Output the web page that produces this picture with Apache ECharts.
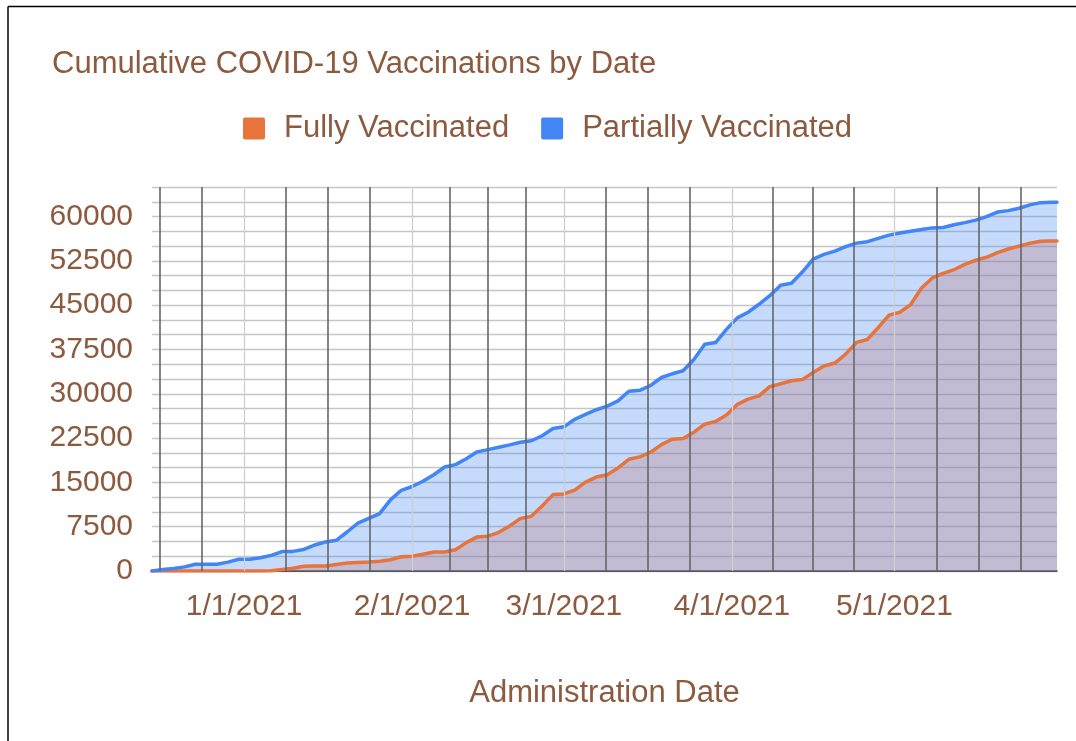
<!DOCTYPE html>
<html>
<head>
<meta charset="utf-8">
<title>Cumulative COVID-19 Vaccinations by Date</title>
<script src="https://cdn.jsdelivr.net/npm/echarts@6/dist/echarts.min.js"></script>
<style>
    html, body { margin: 0; padding: 0; background: #fff; }
    #chart { width: 1076px; height: 741px; }
</style>
</head>
<body>
<div id="chart"></div>
<script>
// administration dates (every 2 days) and cumulative counts
var dates = [
    '2020-12-15', '2020-12-17', '2020-12-19', '2020-12-21', '2020-12-23', '2020-12-25', '2020-12-27', '2020-12-29', '2020-12-31', '2021-01-02',
    '2021-01-04', '2021-01-06', '2021-01-08', '2021-01-10', '2021-01-12', '2021-01-14', '2021-01-16', '2021-01-18', '2021-01-20', '2021-01-22',
    '2021-01-24', '2021-01-26', '2021-01-28', '2021-01-30', '2021-02-01', '2021-02-03', '2021-02-05', '2021-02-07', '2021-02-09', '2021-02-11',
    '2021-02-13', '2021-02-15', '2021-02-17', '2021-02-19', '2021-02-21', '2021-02-23', '2021-02-25', '2021-02-27', '2021-03-01', '2021-03-03',
    '2021-03-05', '2021-03-07', '2021-03-09', '2021-03-11', '2021-03-13', '2021-03-15', '2021-03-17', '2021-03-19', '2021-03-21', '2021-03-23',
    '2021-03-25', '2021-03-27', '2021-03-29', '2021-03-31', '2021-04-02', '2021-04-04', '2021-04-06', '2021-04-08', '2021-04-10', '2021-04-12',
    '2021-04-14', '2021-04-16', '2021-04-18', '2021-04-20', '2021-04-22', '2021-04-24', '2021-04-26', '2021-04-28', '2021-04-30', '2021-05-02',
    '2021-05-04', '2021-05-06', '2021-05-08', '2021-05-10', '2021-05-12', '2021-05-14', '2021-05-16', '2021-05-18', '2021-05-20', '2021-05-22',
    '2021-05-24', '2021-05-26', '2021-05-28', '2021-05-30', '2021-05-31'
];

var fullyVaccinated = [
    0, 0, 0, 0, 0, 0, 0, 0, 0, 0,
    0, 60, 250, 480, 800, 850, 850, 1100, 1360, 1450,
    1520, 1650, 1900, 2420, 2500, 2850, 3220, 3220, 3600, 4800,
    5770, 5900, 6550, 7620, 8900, 9250, 11000, 12930, 13050, 13700,
    15050, 15900, 16300, 17450, 18910, 19320, 20100, 21400, 22300, 22430,
    23500, 24850, 25320, 26400, 28200, 29100, 29650, 31200, 31700, 32200,
    32400, 33600, 34710, 35200, 36700, 38700, 39180, 41200, 43320, 43800,
    45100, 47900, 49600, 50380, 51000, 51900, 52600, 53100, 53900, 54500,
    55000, 55480, 55830, 55870, 55870
];

var partiallyVaccinated = [
    0, 250, 420, 700, 1130, 1130, 1150, 1500, 1980, 1990,
    2250, 2650, 3280, 3320, 3650, 4400, 4900, 5200, 6600, 8100,
    8900, 9720, 12050, 13660, 14300, 15200, 16300, 17600, 18000, 19000,
    20170, 20550, 20950, 21350, 21800, 22050, 22900, 24110, 24400, 25680,
    26500, 27300, 27900, 28800, 30430, 30580, 31400, 32750, 33380, 33900,
    35800, 38400, 38670, 40900, 42850, 43800, 45150, 46600, 48370, 48700,
    50600, 52800, 53600, 54150, 54900, 55500, 55750, 56300, 56850, 57200,
    57520, 57800, 58080, 58150, 58600, 58970, 59400, 60000, 60750, 61000,
    61400, 61980, 62350, 62420, 62420
];

// month boundaries, each month is split in 4 by the vertical grid
var monthStarts = ['2020-12-01', '2021-01-01', '2021-02-01', '2021-03-01', '2021-04-01', '2021-05-01', '2021-06-01'];
var labelMonths = ['2021-01-01', '2021-02-01', '2021-03-01', '2021-04-01', '2021-05-01'];
var yMax = 65000;
var yGridStep = 2500;
var yLabelStep = 7500;

var textColor = '#8c5a3e';
var fontFamily = '"Liberation Sans", Arial, sans-serif';

function toTime(s) {
    var p = s.split('-');
    return new Date(+p[0], +p[1] - 1, +p[2]).getTime();
}

var xMin = toTime(dates[0]);
var xMax = toTime(dates[dates.length - 1]);

var fullyData = dates.map(function (d, i) { return [toTime(d), fullyVaccinated[i]]; });
var partialData = dates.map(function (d, i) { return [toTime(d), partiallyVaccinated[i]]; });

var verticalGrid = [];
for (var i = 0; i < monthStarts.length - 1; i++) {
    var start = toTime(monthStarts[i]);
    var end = toTime(monthStarts[i + 1]);
    for (var k = 0; k < 4; k++) {
        var t = start + k * (end - start) / 4;
        if (t <= xMin || t >= xMax) continue;
        verticalGrid.push({
            xAxis: t,
            lineStyle: { color: k === 0 ? '#d0d0d0' : '#666', width: k === 0 ? 1.3 : 1.6, type: 'solid' }
        });
    }
}

var chart = echarts.init(document.getElementById('chart'));

var option = {
    animation: false,
    backgroundColor: '#fff',
    textStyle: { fontFamily: fontFamily },
    title: {
        text: 'Cumulative COVID-19 Vaccinations by Date',
        left: 47,
        top: 44,
        textStyle: { color: textColor, fontSize: 31, fontWeight: 'normal', fontFamily: fontFamily }
    },
    legend: {
        left: 243,
        top: 113,
        padding: 0,
        icon: 'path://M2,0 L20,0 Q22,0 22,2 L22,20 Q22,22 20,22 L2,22 Q0,22 0,20 L0,2 Q0,0 2,0 Z',
        itemWidth: 22,
        itemHeight: 22,
        itemGap: 32,
        textStyle: { color: textColor, fontSize: 31, fontFamily: fontFamily, padding: [0, 0, 0, 14] },
        data: ['Fully Vaccinated', 'Partially Vaccinated']
    },
    grid: {
        left: 152,
        right: 19,
        top: 187,
        bottom: 170,
        containLabel: false,
        outerBoundsMode: 'none'
    },
    xAxis: {
        type: 'value',
        min: xMin,
        max: xMax,
        name: 'Administration Date',
        nameLocation: 'middle',
        nameGap: 107,
        nameTextStyle: { color: textColor, fontSize: 31, fontFamily: fontFamily },
        axisLine: { show: true, onZero: false, lineStyle: { color: '#333', width: 1.5 } },
        axisTick: { show: false },
        splitLine: { show: false },
        axisLabel: {
            customValues: labelMonths.map(toTime),
            margin: 21,
            color: textColor,
            fontSize: 30,
            fontFamily: fontFamily,
            formatter: function (v) {
                var d = new Date(v);
                return (d.getMonth() + 1) + '/' + d.getDate() + '/' + d.getFullYear();
            }
        }
    },
    yAxis: {
        type: 'value',
        min: 0,
        max: yMax,
        interval: yGridStep,
        axisLine: { show: false },
        axisTick: { show: false },
        splitLine: { show: true, lineStyle: { color: '#c6c6c6', width: 1.4 } },
        axisLabel: {
            margin: 19,
            color: textColor,
            fontSize: 30,
            fontFamily: fontFamily,
            formatter: function (v) {
                return v % yLabelStep === 0 ? String(v) : '';
            }
        }
    },
    series: [
        {
            name: 'Fully Vaccinated',
            type: 'line',
            data: fullyData,
            showSymbol: false,
            symbol: 'none',
            color: '#e8743b',
            lineStyle: { width: 3.5, color: '#e8743b', cap: 'round', join: 'round' },
            areaStyle: { color: '#e8743b', opacity: 0.3 },
            markLine: {
                silent: true,
                symbol: ['none', 'none'],
                label: { show: false },
                emphasis: { disabled: true },
                data: verticalGrid
            }
        },
        {
            name: 'Partially Vaccinated',
            type: 'line',
            data: partialData,
            showSymbol: false,
            symbol: 'none',
            color: '#4285f4',
            lineStyle: { width: 3.5, color: '#4285f4', cap: 'round', join: 'round' },
            areaStyle: { color: '#4285f4', opacity: 0.3 }
        }
    ],
    graphic: [
        { type: 'line', shape: { x1: 8, y1: 6.5, x2: 1076, y2: 6.5 }, style: { stroke: '#000', lineWidth: 1.5 } },
        { type: 'line', shape: { x1: 8, y1: 6.5, x2: 8, y2: 741 }, style: { stroke: '#000', lineWidth: 1.5 } }
    ]
};

chart.setOption(option);
</script>
</body>
</html>
